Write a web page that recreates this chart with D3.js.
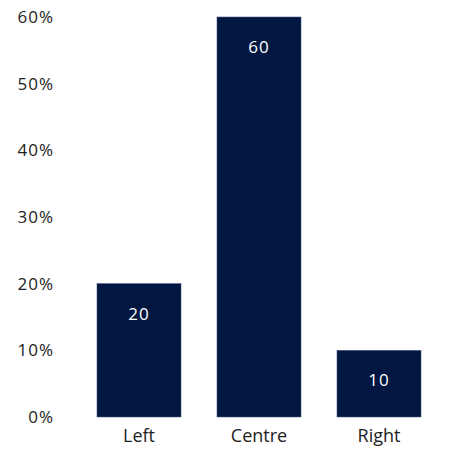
<!DOCTYPE html>
<html><head><meta charset="utf-8">
<script src="https://cdn.jsdelivr.net/npm/d3@7"></script>
<style>body{margin:0;background:#fff}svg{display:block}</style>
</head><body>
<svg id="c" width="472" height="455"></svg>
<script>
const categories = ["Left", "Centre", "Right"];
const values = [20, 60, 10];
const yTicks = [0, 10, 20, 30, 40, 50, 60];

const svg = d3.select("#c");
const x = d3.scaleBand().domain(categories).range([79, 439]).paddingInner(0.3).paddingOuter(0.15);
const y = d3.scaleLinear().domain([0, 60]).range([417, 17]);

svg.append("g").selectAll("rect").data(categories).join("rect")
  .attr("x", d => x(d)).attr("width", x.bandwidth())
  .attr("y", (d, i) => y(values[i])).attr("height", (d, i) => y(0) - y(values[i]))
  .attr("fill", "#011641").attr("stroke", "#4a5880").attr("stroke-width", 0.6);

svg.append("g").selectAll("text").data(categories).join("text")
  .attr("x", d => x(d) + x.bandwidth() / 2)
  .attr("y", (d, i) => y(values[i]) + 30)
  .attr("dy", "0.35em").attr("text-anchor", "middle")
  .attr("fill", "#fff").attr("font-family", "'Open Sans', sans-serif").attr("font-size", 17)
  .attr("letter-spacing", 1)
  .text((d, i) => values[i]);

const yAxis = svg.append("g").attr("transform", "translate(54,0)")
  .call(d3.axisLeft(y).tickValues(yTicks).tickFormat(d => d + "%").tickSize(0).tickPadding(0));
yAxis.select(".domain").remove();
yAxis.selectAll("text").attr("fill", "#222").attr("font-family", "'Open Sans', sans-serif").attr("font-size", 17)
  .attr("letter-spacing", 1);

const xAxis = svg.append("g").attr("transform", "translate(0,417)")
  .call(d3.axisBottom(x).tickSize(0).tickPadding(12));
xAxis.select(".domain").remove();
xAxis.selectAll("text").attr("fill", "#222").attr("font-family", "'Open Sans', sans-serif").attr("font-size", 18);
</script>
</body></html>
